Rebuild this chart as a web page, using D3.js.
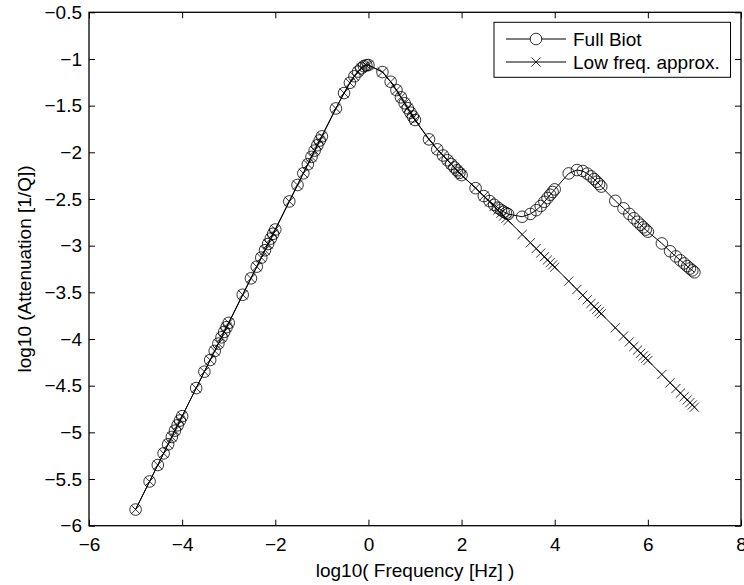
<!DOCTYPE html>
<html>
<head>
<meta charset="utf-8">
<script src="https://cdn.jsdelivr.net/npm/d3@7/dist/d3.min.js"></script>
<style>
  html, body { margin: 0; padding: 0; background: #fff; }
  svg { display: block; }
  text { font-family: "Liberation Sans", Arial, Helvetica, sans-serif; fill: #000; }
</style>
</head>
<body>
<svg id="chart" width="744" height="585"></svg>
<script>
// ---- data ----
const freqHz = [
  1e-5,2e-5,3e-5,4e-5,5e-5,6e-5,7e-5,8e-5,9e-5,
  1e-4,2e-4,3e-4,4e-4,5e-4,6e-4,7e-4,8e-4,9e-4,
  1e-3,2e-3,3e-3,4e-3,5e-3,6e-3,7e-3,8e-3,9e-3,
  1e-2,2e-2,3e-2,4e-2,5e-2,6e-2,7e-2,8e-2,9e-2,
  1e-1,2e-1,3e-1,4e-1,5e-1,6e-1,7e-1,8e-1,9e-1,
  1,2,3,4,5,6,7,8,9,
  10,20,30,40,50,60,70,80,90,
  100,200,300,400,500,600,700,800,900,
  1e3,2e3,3e3,4e3,5e3,6e3,7e3,8e3,9e3,
  1e4,2e4,3e4,4e4,5e4,6e4,7e4,8e4,9e4,
  1e5,2e5,3e5,4e5,5e5,6e5,7e5,8e5,9e5,
  1e6,2e6,3e6,4e6,5e6,6e6,7e6,8e6,9e6,
  1e7
];

const fullBiot = [
  -5.827,-5.526,-5.350,-5.225,-5.128,-5.049,-4.982,-4.924,-4.873,
  -4.827,-4.526,-4.350,-4.225,-4.128,-4.049,-3.982,-3.924,-3.873,
  -3.827,-3.526,-3.350,-3.225,-3.128,-3.049,-2.982,-2.924,-2.873,
  -2.827,-2.526,-2.350,-2.225,-2.128,-2.049,-1.982,-1.924,-1.873,
  -1.829,-1.530,-1.365,-1.255,-1.185,-1.135,-1.100,-1.078,-1.067,
  -1.065,-1.140,-1.244,-1.333,-1.411,-1.474,-1.528,-1.575,-1.616,
  -1.654,-1.861,-1.968,-2.034,-2.085,-2.127,-2.162,-2.193,-2.220,
  -2.244,-2.384,-2.469,-2.522,-2.562,-2.593,-2.617,-2.636,-2.650,
  -2.662,-2.690,-2.660,-2.620,-2.575,-2.530,-2.490,-2.455,-2.425,
  -2.397,-2.226,-2.190,-2.200,-2.228,-2.258,-2.287,-2.315,-2.340,
  -2.367,-2.520,-2.600,-2.660,-2.706,-2.744,-2.776,-2.804,-2.828,
  -2.850,-2.976,-3.060,-3.115,-3.157,-3.190,-3.220,-3.245,-3.265,
  -3.285
];

const lowFreqApprox = [
  -5.827,-5.526,-5.350,-5.225,-5.128,-5.049,-4.982,-4.924,-4.873,
  -4.827,-4.526,-4.350,-4.225,-4.128,-4.049,-3.982,-3.924,-3.873,
  -3.827,-3.526,-3.350,-3.225,-3.128,-3.049,-2.982,-2.924,-2.873,
  -2.827,-2.526,-2.350,-2.225,-2.128,-2.049,-1.982,-1.924,-1.873,
  -1.829,-1.530,-1.365,-1.255,-1.185,-1.135,-1.100,-1.078,-1.067,
  -1.065,-1.140,-1.244,-1.333,-1.411,-1.474,-1.528,-1.575,-1.616,
  -1.654,-1.861,-1.968,-2.034,-2.085,-2.127,-2.162,-2.193,-2.220,
  -2.244,-2.382,-2.469,-2.531,-2.580,-2.619,-2.653,-2.682,-2.707,
  -2.730,-2.880,-2.969,-3.031,-3.080,-3.119,-3.153,-3.182,-3.207,
  -3.230,-3.380,-3.469,-3.531,-3.580,-3.619,-3.653,-3.682,-3.707,
  -3.730,-3.880,-3.969,-4.031,-4.080,-4.119,-4.153,-4.182,-4.207,
  -4.230,-4.380,-4.469,-4.531,-4.580,-4.619,-4.653,-4.682,-4.707,
  -4.730
];

const seriesNames = ["Full Biot", "Low freq. approx."];
const xTicks = [-6, -4, -2, 0, 2, 4, 6, 8];
const xTickLabels = ["\u22126", "\u22124", "\u22122", "0", "2", "4", "6", "8"];
const yTicks = [-6, -5.5, -5, -4.5, -4, -3.5, -3, -2.5, -2, -1.5, -1, -0.5];
const yTickLabels = ["\u22126", "\u22125.5", "\u22125", "\u22124.5", "\u22124", "\u22123.5",
                     "\u22123", "\u22122.5", "\u22122", "\u22121.5", "\u22121", "\u22120.5"];
const xLabel = "log10( Frequency [Hz] )";
const yLabel = "log10 (Attenuation [1/Q])";

// ---- layout ----
const L = 89, R = 741, T = 12.3, B = 525.7;
const FS = 19;
const svg = d3.select("#chart");

const x = d3.scaleLinear().domain([-6, 8]).range([L, R]);
const y = d3.scaleLinear().domain([-6, -0.5]).range([B, T]);

const logF = freqHz.map(f => Math.log10(f));
const biotPts = logF.map((v, i) => [v, fullBiot[i]]);
const lowPts = logF.map((v, i) => [v, lowFreqApprox[i]]);

// axes (ticks inward, mirrored)
const tickLen = 6;
function styleAxis(g) {
  g.select(".domain").remove();
  g.selectAll(".tick line").attr("stroke", "#000").attr("stroke-width", 1);
  g.selectAll(".tick text").style("font-size", FS + "px").attr("fill", "#000");
}
svg.append("g").attr("transform", `translate(0,${B})`)
  .call(d3.axisBottom(x).tickValues(xTicks).tickSizeInner(-tickLen).tickSizeOuter(0)
        .tickPadding(12).tickFormat((d, i) => xTickLabels[i]))
  .call(styleAxis);
svg.append("g").attr("transform", `translate(0,${T})`)
  .call(d3.axisTop(x).tickValues(xTicks).tickSizeInner(-tickLen).tickSizeOuter(0).tickFormat(""))
  .call(styleAxis);
svg.append("g").attr("transform", `translate(${L},0)`)
  .call(d3.axisLeft(y).tickValues(yTicks).tickSizeInner(-tickLen).tickSizeOuter(0)
        .tickPadding(7).tickFormat((d, i) => yTickLabels[i]))
  .call(styleAxis);
svg.append("g").attr("transform", `translate(${R},0)`)
  .call(d3.axisRight(y).tickValues(yTicks).tickSizeInner(-tickLen).tickSizeOuter(0).tickFormat(""))
  .call(styleAxis);

svg.append("rect").attr("x", L).attr("y", T).attr("width", R - L).attr("height", B - T)
  .attr("fill", "none").attr("stroke", "#000").attr("stroke-width", 1.3);

// lines
const line = d3.line().x(d => x(d[0])).y(d => y(d[1]));
svg.append("path").datum(biotPts).attr("d", line)
  .attr("fill", "none").attr("stroke", "#000").attr("stroke-width", 1);
svg.append("path").datum(lowPts).attr("d", line)
  .attr("fill", "none").attr("stroke", "#000").attr("stroke-width", 1);

// markers
const R_C = 5.8, R_X = 4.6;
const crossPath = `M${-R_X},${-R_X}L${R_X},${R_X}M${-R_X},${R_X}L${R_X},${-R_X}`;
svg.append("g").selectAll("circle").data(biotPts).join("circle")
  .attr("cx", d => x(d[0])).attr("cy", d => y(d[1])).attr("r", R_C)
  .attr("fill", "none").attr("stroke", "#000").attr("stroke-width", 0.8);
svg.append("g").selectAll("path").data(lowPts).join("path")
  .attr("transform", d => `translate(${x(d[0])},${y(d[1])})`)
  .attr("d", crossPath).attr("fill", "none").attr("stroke", "#000").attr("stroke-width", 0.8);

// axis labels
svg.append("text").attr("x", (L + R) / 2).attr("y", 577).attr("text-anchor", "middle")
  .style("font-size", FS + "px").text(xLabel);
svg.append("text").attr("transform", `translate(31,${(T + B) / 2}) rotate(-90)`)
  .attr("text-anchor", "middle").style("font-size", FS + "px").text(yLabel);

// legend
const lg = svg.append("g");
lg.append("rect").attr("x", 494).attr("y", 22.3).attr("width", 236.5).attr("height", 55)
  .attr("fill", "#fff").attr("stroke", "#000").attr("stroke-width", 1);
const rows = [{ y: 39, m: "o" }, { y: 62, m: "x" }];
rows.forEach((r, i) => {
  lg.append("line").attr("x1", 506).attr("x2", 566).attr("y1", r.y).attr("y2", r.y)
    .attr("stroke", "#000").attr("stroke-width", 1);
  if (r.m === "o") {
    lg.append("circle").attr("cx", 536).attr("cy", r.y).attr("r", R_C)
      .attr("fill", "#fff").attr("stroke", "#000").attr("stroke-width", 0.8);
  } else {
    lg.append("path").attr("transform", `translate(536,${r.y})`).attr("d", crossPath)
      .attr("stroke", "#000").attr("stroke-width", 0.8);
  }
  lg.append("text").attr("x", 573).attr("y", r.y).attr("dy", "0.35em")
    .style("font-size", FS + "px").text(seriesNames[i]);
});
</script>
</body>
</html>
